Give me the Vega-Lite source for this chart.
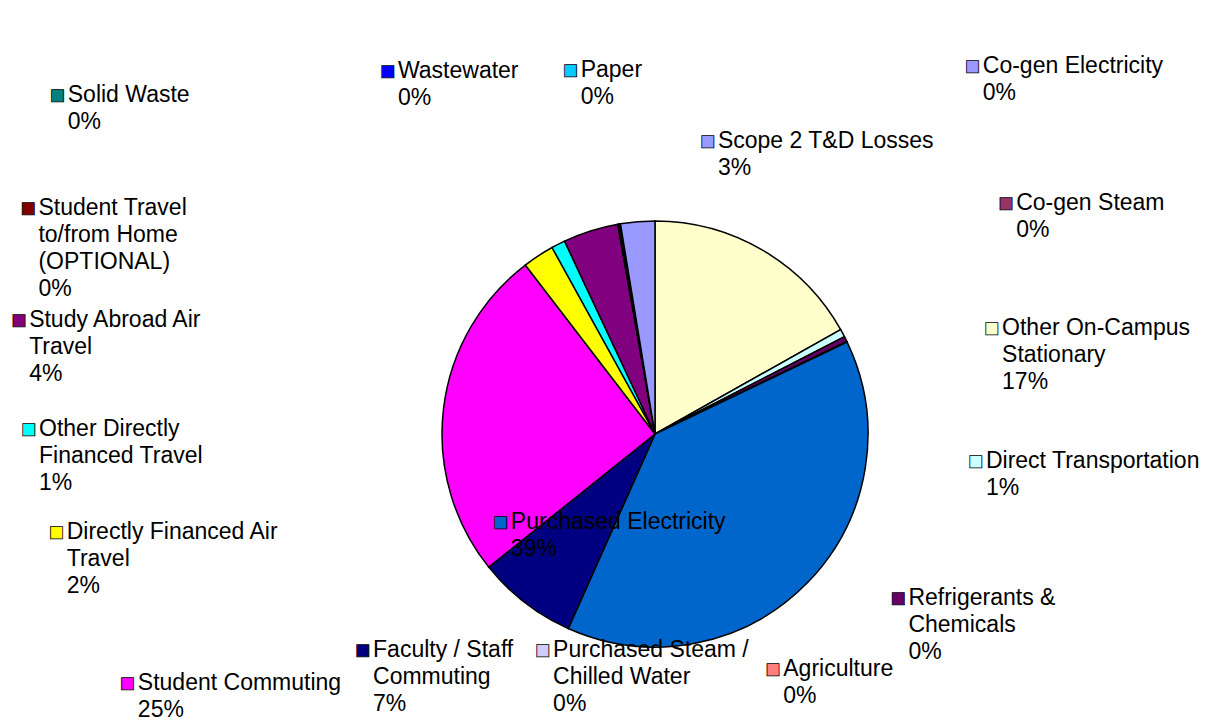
{
  "$schema": "https://vega.github.io/schema/vega-lite/v6.json",
  "width": 1104,
  "height": 578,
  "autosize": {"type": "none"},
  "padding": {"left": 103, "top": 145, "right": 0, "bottom": 0},
  "background": "white",
  "config": {"view": {"stroke": null}, "text": {"font": "Liberation Sans", "fontSize": 23}},
  "data": {"values": [
    {"idx": 1, "category": "Co-gen Electricity", "value": 0, "label": "Co-gen Electricity\n0%"},
    {"idx": 2, "category": "Co-gen Steam", "value": 0, "label": "Co-gen Steam\n0%"},
    {"idx": 3, "category": "Other On-Campus Stationary", "value": 16.9, "label": "Other On-Campus\nStationary\n17%"},
    {"idx": 4, "category": "Direct Transportation", "value": 0.6, "label": "Direct Transportation\n1%"},
    {"idx": 5, "category": "Refrigerants & Chemicals", "value": 0.4, "label": "Refrigerants &\nChemicals\n0%"},
    {"idx": 6, "category": "Agriculture", "value": 0.05, "label": "Agriculture\n0%"},
    {"idx": 7, "category": "Purchased Electricity", "value": 38.9, "label": "Purchased Electricity\n39%"},
    {"idx": 8, "category": "Purchased Steam / Chilled Water", "value": 0, "label": "Purchased Steam /\nChilled Water\n0%"},
    {"idx": 9, "category": "Faculty / Staff Commuting", "value": 7.6, "label": "Faculty / Staff\nCommuting\n7%"},
    {"idx": 10, "category": "Student Commuting", "value": 25.4, "label": "Student Commuting\n25%"},
    {"idx": 11, "category": "Directly Financed Air Travel", "value": 2.4, "label": "Directly Financed Air\nTravel\n2%"},
    {"idx": 12, "category": "Other Directly Financed Travel", "value": 1.05, "label": "Other Directly\nFinanced Travel\n1%"},
    {"idx": 13, "category": "Study Abroad Air Travel", "value": 4.2, "label": "Study Abroad Air\nTravel\n4%"},
    {"idx": 14, "category": "Student Travel to/from Home (OPTIONAL)", "value": 0, "label": "Student Travel\nto/from Home\n(OPTIONAL)\n0%"},
    {"idx": 15, "category": "Solid Waste", "value": 0.1, "label": "Solid Waste\n0%"},
    {"idx": 16, "category": "Wastewater", "value": 0.05, "label": "Wastewater\n0%"},
    {"idx": 17, "category": "Paper", "value": 0.05, "label": "Paper\n0%"},
    {"idx": 18, "category": "Scope 2 T&D Losses", "value": 2.6, "label": "Scope 2 T&D Losses\n3%"}
  ]},
  "resolve": {"scale": {"theta": "independent", "radius": "independent"}},
  "layer": [
    {
      "mark": {"type": "arc", "outerRadius": 213, "stroke": "black", "strokeWidth": 1.5},
      "encoding": {
        "theta": {"field": "value", "type": "quantitative", "stack": true},
        "order": {"field": "idx", "type": "quantitative"},
        "color": {
          "field": "category", "type": "nominal", "legend": null,
          "scale": {
            "domain": ["Co-gen Electricity", "Co-gen Steam", "Other On-Campus Stationary", "Direct Transportation", "Refrigerants & Chemicals", "Agriculture", "Purchased Electricity", "Purchased Steam / Chilled Water", "Faculty / Staff Commuting", "Student Commuting", "Directly Financed Air Travel", "Other Directly Financed Travel", "Study Abroad Air Travel", "Student Travel to/from Home (OPTIONAL)", "Solid Waste", "Wastewater", "Paper", "Scope 2 T&D Losses"],
            "range": ["#9999FF", "#993366", "#FFFFCC", "#CCFFFF", "#660066", "#FF8080", "#0066CC", "#CCCCFF", "#000080", "#FF00FF", "#FFFF00", "#00FFFF", "#800080", "#800000", "#008080", "#0000FF", "#00CCFF", "#9999FF"]
          }
        }
      }
    },
    {
      "transform": [{"filter": "datum.idx >= 1 && datum.idx <= 3"}],
      "encoding": {
        "theta": {"field": "idx", "type": "quantitative", "scale": {"type": "linear", "domain": [1, 3], "range": [0.6981, 1.2566], "zero": false, "nice": false}},
        "radius": {"field": "idx", "type": "quantitative", "scale": {"type": "linear", "domain": [1, 3], "range": [482, 346], "zero": false, "nice": false}}
      },
      "layer": [
        {"mark": {"type": "text", "text": "■", "align": "left", "fontSize": 25, "dy": 9, "baseline": "alphabetic", "stroke": "black", "strokeWidth": 0.8},
         "encoding": {"color": {"field": "category", "type": "nominal", "legend": null}}},
        {"mark": {"type": "text", "align": "left", "dx": 18, "dy": 8, "baseline": "alphabetic", "lineBreak": "\n", "lineHeight": 27, "fill": "black"},
         "encoding": {"text": {"field": "label"}}}
      ]
    },
    {
      "transform": [{"filter": "datum.idx >= 4 && datum.idx <= 6"}],
      "encoding": {
        "theta": {"field": "idx", "type": "quantitative", "scale": {"type": "linear", "domain": [4, 6], "range": [1.6528, 2.7018], "zero": false, "nice": false}},
        "radius": {"field": "idx", "type": "quantitative", "scale": {"type": "linear", "domain": [4, 6], "range": [314, 259], "zero": false, "nice": false}}
      },
      "layer": [
        {"mark": {"type": "text", "text": "■", "align": "left", "fontSize": 25, "dy": 9, "baseline": "alphabetic", "stroke": "black", "strokeWidth": 0.8},
         "encoding": {"color": {"field": "category", "type": "nominal", "legend": null}}},
        {"mark": {"type": "text", "align": "left", "dx": 18, "dy": 8, "baseline": "alphabetic", "lineBreak": "\n", "lineHeight": 27, "fill": "black"},
         "encoding": {"text": {"field": "label"}}}
      ]
    },
    {
      "transform": [{"filter": "datum.idx == 7"}],
      "layer": [
        {"mark": {"type": "text", "text": "■", "theta": 4.2202, "radius": 184, "align": "left", "fontSize": 25, "dy": 9, "baseline": "alphabetic", "stroke": "black", "strokeWidth": 0.8},
         "encoding": {"color": {"field": "category", "type": "nominal", "legend": null}}},
        {"mark": {"type": "text", "theta": 4.2202, "radius": 184, "align": "left", "dx": 18, "dy": 8, "baseline": "alphabetic", "lineBreak": "\n", "lineHeight": 27, "fill": "black"},
         "encoding": {"text": {"field": "label"}}}
      ]
    },
    {
      "transform": [{"filter": "datum.idx >= 8 && datum.idx <= 9"}],
      "encoding": {
        "theta": {"field": "idx", "type": "quantitative", "scale": {"type": "linear", "domain": [8, 9], "range": [3.6506, 4.0906], "zero": false, "nice": false}},
        "radius": {"field": "idx", "type": "quantitative", "scale": {"type": "linear", "domain": [8, 9], "range": [246, 369], "zero": false, "nice": false}}
      },
      "layer": [
        {"mark": {"type": "text", "text": "■", "align": "left", "fontSize": 25, "dy": 9, "baseline": "alphabetic", "stroke": "black", "strokeWidth": 0.8},
         "encoding": {"color": {"field": "category", "type": "nominal", "legend": null}}},
        {"mark": {"type": "text", "align": "left", "dx": 18, "dy": 8, "baseline": "alphabetic", "lineBreak": "\n", "lineHeight": 27, "fill": "black"},
         "encoding": {"text": {"field": "label"}}}
      ]
    },
    {
      "transform": [{"filter": "datum.idx == 10"}],
      "layer": [
        {"mark": {"type": "text", "text": "■", "theta": 4.2778, "radius": 590, "align": "left", "fontSize": 25, "dy": 9, "baseline": "alphabetic", "stroke": "black", "strokeWidth": 0.8},
         "encoding": {"color": {"field": "category", "type": "nominal", "legend": null}}},
        {"mark": {"type": "text", "theta": 4.2778, "radius": 590, "align": "left", "dx": 18, "dy": 8, "baseline": "alphabetic", "lineBreak": "\n", "lineHeight": 27, "fill": "black"},
         "encoding": {"text": {"field": "label"}}}
      ]
    },
    {
      "transform": [{"filter": "datum.idx >= 11 && datum.idx <= 15"}],
      "encoding": {
        "theta": {"field": "idx", "type": "quantitative", "scale": {"type": "linear", "domain": [11, 15], "range": [4.5536, 5.2237], "zero": false, "nice": false}},
        "radius": {"field": "idx", "type": "quantitative", "scale": {"type": "linear", "domain": [11, 15], "range": [614, 694], "zero": false, "nice": false}}
      },
      "layer": [
        {"mark": {"type": "text", "text": "■", "align": "left", "fontSize": 25, "dy": 9, "baseline": "alphabetic", "stroke": "black", "strokeWidth": 0.8},
         "encoding": {"color": {"field": "category", "type": "nominal", "legend": null}}},
        {"mark": {"type": "text", "align": "left", "dx": 18, "dy": 8, "baseline": "alphabetic", "lineBreak": "\n", "lineHeight": 27, "fill": "black"},
         "encoding": {"text": {"field": "label"}}}
      ]
    },
    {
      "transform": [{"filter": "datum.idx >= 16 && datum.idx <= 18"}],
      "encoding": {
        "theta": {"field": "idx", "type": "quantitative", "scale": {"type": "linear", "domain": [16, 18], "range": [5.6357, 6.4351], "zero": false, "nice": false}},
        "radius": {"field": "idx", "type": "quantitative", "scale": {"type": "linear", "domain": [16, 18], "range": [456, 297], "zero": false, "nice": false}}
      },
      "layer": [
        {"mark": {"type": "text", "text": "■", "align": "left", "fontSize": 25, "dy": 9, "baseline": "alphabetic", "stroke": "black", "strokeWidth": 0.8},
         "encoding": {"color": {"field": "category", "type": "nominal", "legend": null}}},
        {"mark": {"type": "text", "align": "left", "dx": 18, "dy": 8, "baseline": "alphabetic", "lineBreak": "\n", "lineHeight": 27, "fill": "black"},
         "encoding": {"text": {"field": "label"}}}
      ]
    }
  ]
}
